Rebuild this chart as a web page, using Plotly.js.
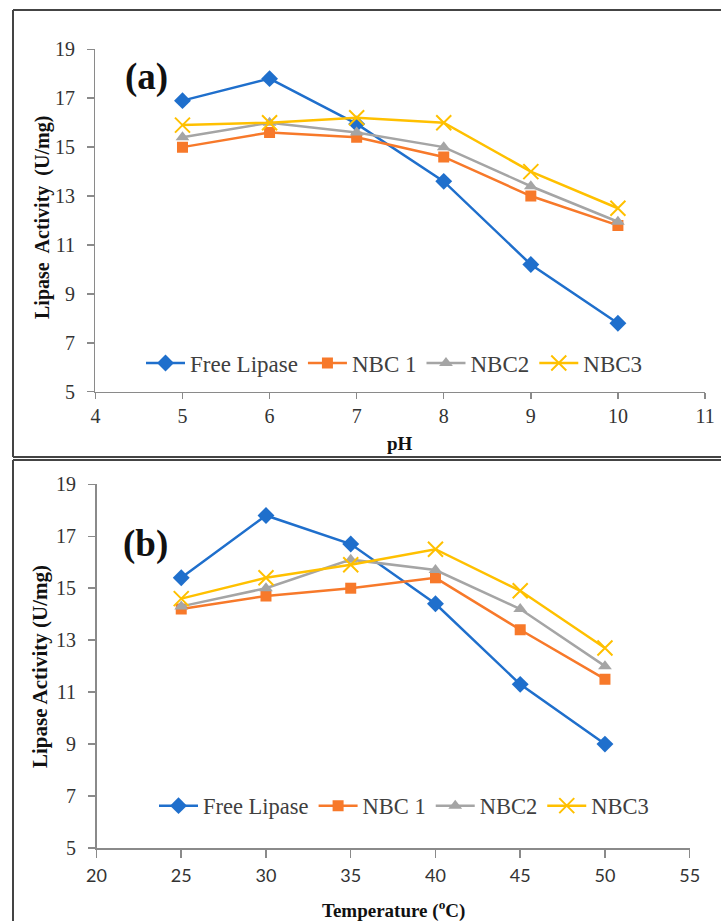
<!DOCTYPE html>
<html>
<head>
<meta charset="utf-8">
<script src="https://cdn.plot.ly/plotly-3.0.1.min.js"></script>
<style>html,body{margin:0;padding:0;background:#fff;}#chart{width:721px;height:921px;}</style>
</head>
<body>
<div id="chart"></div>
<script>
// ---- data ----
const seriesNames = ["Free Lipase", "NBC 1", "NBC2", "NBC3"];
const pH = [5, 6, 7, 8, 9, 10];
const phFree = [16.9, 17.8, 15.95, 13.6, 10.2, 7.8];
const phNBC1 = [15.0, 15.6, 15.4, 14.6, 13.0, 11.8];
const phNBC2 = [15.4, 16.0, 15.6, 15.0, 13.4, 11.95];
const phNBC3 = [15.9, 16.0, 16.2, 16.0, 14.0, 12.5];
const temperature = [25, 30, 35, 40, 45, 50];
const tFree = [15.4, 17.8, 16.7, 14.4, 11.3, 9.0];
const tNBC1 = [14.2, 14.7, 15.0, 15.4, 13.4, 11.5];
const tNBC2 = [14.3, 15.0, 16.1, 15.7, 14.2, 12.0];
const tNBC3 = [14.6, 15.4, 15.9, 16.5, 14.9, 12.7];

// ---- styles ----
const colors = ["#1f6fcc", "#f7792a", "#a5a5a5", "#ffc000"];
const symbols = ["diamond", "square", "triangle-up", "x-thin-open"];
const msizes = [13, 11, 12, 15];

function mk(x, y, i, xa, ya, leg) {
  return {
    x: x, y: y, name: seriesNames[i], type: "scatter", mode: "lines+markers",
    xaxis: xa, yaxis: ya, legend: leg,
    line: {color: colors[i], width: 2.5},
    marker: {symbol: symbols[i], size: msizes[i], color: colors[i],
             line: {color: colors[i], width: i === 3 ? 2 : 0}}
  };
}

const traces = [
  mk(pH, phFree, 0, "x", "y", "legend"),
  mk(pH, phNBC1, 1, "x", "y", "legend"),
  mk(pH, phNBC2, 2, "x", "y", "legend"),
  mk(pH, phNBC3, 3, "x", "y", "legend"),
  mk(temperature, tFree, 0, "x2", "y2", "legend2"),
  mk(temperature, tNBC1, 1, "x2", "y2", "legend2"),
  mk(temperature, tNBC2, 2, "x2", "y2", "legend2"),
  mk(temperature, tNBC3, 3, "x2", "y2", "legend2")
];

const W = 721, H = 921;
const serif = "Liberation Serif, Times New Roman, serif";
const axCommon = {
  showgrid: false, zeroline: false, showline: true, linecolor: "#8a8a8a", linewidth: 1.5,
  ticks: "outside", tickcolor: "#8a8a8a", tickwidth: 1.5, fixedrange: true
};
function px2x(p) { return p / W; }
function px2y(p) { return 1 - p / H; }

const layout = {
  width: W, height: H,
  margin: {l: 0, r: 0, t: 0, b: 0},
  paper_bgcolor: "#ffffff", plot_bgcolor: "#ffffff",
  showlegend: true,
  xaxis: Object.assign({}, axCommon, {
    domain: [px2x(95.4), px2x(705)], range: [4, 11], dtick: 1, tick0: 4, anchor: "y",
    ticklen: 6, ticklabelstandoff: 0,
    tickfont: {family: serif, size: 20, color: "#333"}
  }),
  yaxis: Object.assign({}, axCommon, {
    domain: [px2y(391.7), px2y(49.3)], range: [5, 19], dtick: 2, tick0: 5, anchor: "x",
    ticklen: 7, ticklabelstandoff: 8,
    tickfont: {family: serif, size: 20, color: "#333"}
  }),
  xaxis2: Object.assign({}, axCommon, {
    domain: [px2x(96.5), px2x(689.7)], range: [20, 55], dtick: 5, tick0: 20, anchor: "y2",
    ticklen: 8, ticklabelstandoff: 3,
    tickfont: {family: "Lato, sans-serif", size: 18, color: "#333"}
  }),
  yaxis2: Object.assign({}, axCommon, {
    domain: [px2y(848), px2y(484.3)], range: [5, 19], dtick: 2, tick0: 5, anchor: "x2",
    ticklen: 7, ticklabelstandoff: 8,
    tickfont: {family: serif, size: 20, color: "#333"}
  }),
  legend: {
    orientation: "h", x: px2x(141), xanchor: "left", y: px2y(363), yanchor: "middle",
    bgcolor: "rgba(0,0,0,0)", font: {family: serif, size: 23, color: "#404040"},
    itemwidth: 39, itemclick: false, itemdoubleclick: false, tracegroupgap: 0
  },
  legend2: {
    orientation: "h", x: px2x(154), xanchor: "left", y: px2y(806), yanchor: "middle",
    bgcolor: "rgba(0,0,0,0)", font: {family: serif, size: 22.5, color: "#404040"},
    itemwidth: 39, itemclick: false, itemdoubleclick: false, tracegroupgap: 0
  },
  annotations: [
    {text: "<b>(a)</b>", xref: "paper", yref: "paper", x: px2x(146), y: px2y(77),
     xanchor: "center", yanchor: "middle", showarrow: false,
     font: {family: serif, size: 37, color: "#111"}},
    {text: "<b>(b)</b>", xref: "paper", yref: "paper", x: px2x(145), y: px2y(544),
     xanchor: "center", yanchor: "middle", showarrow: false,
     font: {family: serif, size: 37, color: "#111"}},
    {text: "<b>pH</b>", xref: "paper", yref: "paper", x: px2x(400), y: px2y(443),
     xanchor: "center", yanchor: "middle", showarrow: false,
     font: {family: serif, size: 19, color: "#111"}},
    {text: "<b>Temperature (<sup>o</sup>C)</b>", xref: "paper", yref: "paper", x: px2x(393), y: px2y(909),
     xanchor: "center", yanchor: "middle", showarrow: false,
     font: {family: serif, size: 19, color: "#111"}},
    {text: "<b>Lipase  Activity  (U/mg)</b>", xref: "paper", yref: "paper", x: px2x(42), y: px2y(218),
     xanchor: "center", yanchor: "middle", showarrow: false, textangle: -90,
     font: {family: serif, size: 20, color: "#111"}},
    {text: "<b>Lipase Activity (U/mg)</b>", xref: "paper", yref: "paper", x: px2x(40), y: px2y(667),
     xanchor: "center", yanchor: "middle", showarrow: false, textangle: -90,
     font: {family: serif, size: 21, color: "#111"}}
  ],
  shapes: [
    {type: "line", xref: "paper", yref: "paper", x0: px2x(13), x1: 1, y0: px2y(10), y1: px2y(10), line: {color: "#444", width: 2}},
    {type: "line", xref: "paper", yref: "paper", x0: px2x(13), x1: px2x(13), y0: px2y(10), y1: px2y(457), line: {color: "#444", width: 2}},
    {type: "line", xref: "paper", yref: "paper", x0: px2x(13), x1: 1, y0: px2y(457), y1: px2y(457), line: {color: "#444", width: 2}},
    {type: "line", xref: "paper", yref: "paper", x0: px2x(13), x1: 1, y0: px2y(460), y1: px2y(460), line: {color: "#444", width: 2}},
    {type: "line", xref: "paper", yref: "paper", x0: px2x(13), x1: px2x(13), y0: px2y(460), y1: 0, line: {color: "#444", width: 2}}
  ]
};

Plotly.newPlot("chart", traces, layout, {staticPlot: true, displayModeBar: false});
</script>
</body>
</html>
